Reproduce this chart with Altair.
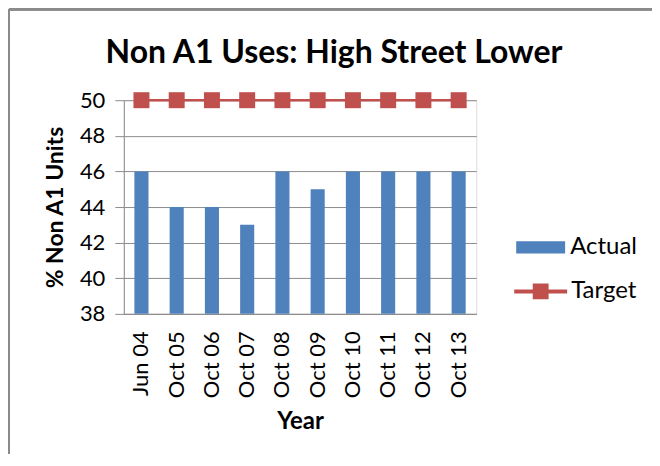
import altair as alt
import pandas as pd

categories = ["Jun 04", "Oct 05", "Oct 06", "Oct 07", "Oct 08", "Oct 09", "Oct 10", "Oct 11", "Oct 12", "Oct 13"]
actual = [46, 44, 44, 43, 46, 45, 46, 46, 46, 46]
target = [50, 50, 50, 50, 50, 50, 50, 50, 50, 50]
y_ticks = [38, 40, 42, 44, 46, 48, 50]

df = pd.DataFrame({"Year": categories, "Actual": actual, "Target": target,
                   "s1": "Actual", "s2": "Target"})

FONT = "Lato"
BLUE = "#4F81BD"
RED = "#C0504D"
GRID = "#8C8C8C"

xaxis = alt.Axis(title="Year", labelAngle=-90, labelFontSize=22, labelPadding=17,
                 ticks=False, titleFontSize=24, titleFontWeight="bold", titlePadding=12,
                 domainColor=GRID, labelColor="#000000", titleColor="#000000",
                 labelFont=FONT, titleFont=FONT)
yaxis = alt.Axis(title="% Non A1 Units", values=y_ticks, labelOverlap=False,
                 labelFontSize=22, labelPadding=10, tickSize=9, tickColor=GRID,
                 domainColor=GRID, gridColor=GRID, grid=True,
                 titleFontSize=23, titleFontWeight="bold", titlePadding=12,
                 labelColor="#000000", titleColor="#000000",
                 labelFont=FONT, titleFont=FONT)
xscale = alt.Scale(paddingInner=0.6, paddingOuter=0.3)
yscale = alt.Scale(domain=[38, 50], nice=False, zero=False)

def X():
    return alt.X("Year:N", sort=categories, scale=xscale, axis=xaxis)

bars = alt.Chart(df).mark_bar(color=BLUE).encode(
    x=X(),
    y=alt.Y("Actual:Q", scale=yscale, axis=yaxis),
    y2=alt.datum(38),
    color=alt.Color("s1:N", scale=alt.Scale(domain=["Actual"], range=[BLUE]),
                    legend=alt.Legend(title=None, orient="none", legendX=393, legendY=123,
                                      symbolType="M-1,-0.25H1V0.25H-1Z", symbolSize=2401,
                                      symbolStrokeWidth=0, labelFontSize=24, labelFont=FONT,
                                      labelColor="#000000", labelOffset=5, padding=0)),
)

line = alt.Chart(df).mark_line(color=RED, strokeWidth=2.5).encode(
    x=X(),
    y=alt.Y("Target:Q", scale=yscale, axis=yaxis),
)

points = alt.Chart(df).mark_point(shape="square", filled=True, size=256, opacity=1).encode(
    x=X(),
    y=alt.Y("Target:Q", scale=yscale, axis=yaxis),
    color=alt.Color("s2:N", scale=alt.Scale(domain=["Target"], range=[RED]),
                    legend=alt.Legend(title=None, orient="none", legendX=391, legendY=165,
                                      symbolType="M-1,-0.075H-0.3V-0.3H0.3V-0.075H1V0.075H0.3V0.3H-0.3V0.075H-1Z",
                                      symbolSize=2809, symbolStrokeWidth=0,
                                      labelFontSize=24, labelFont=FONT,
                                      labelColor="#000000", labelOffset=4, padding=0)),
)

frame = alt.Chart(df).mark_rule(color="#8A8A8A", strokeWidth=2, clip=False).encode(
    x=alt.value(-115), x2=alt.value(529), y=alt.value(-91)
)
frame2 = alt.Chart(df).mark_rule(color="#8A8A8A", strokeWidth=2, clip=False).encode(
    x=alt.value(-115), y=alt.value(-91), y2=alt.value(400)
)

chart = alt.layer(bars, line, points, frame, frame2).resolve_scale(color="independent").properties(
    width=353, height=214,
    title=alt.TitleParams("Non A1 Uses: High Street Lower", font=FONT, fontSize=32,
                          fontWeight="bold", color="#000000", anchor="middle", dx=34, offset=-62),
    autosize=alt.AutoSizeParams(type="none"),
    padding={"left": 116, "top": 92, "right": 176, "bottom": 140},
).configure_view(stroke=None).configure(background="white")

chart.save("out.html", embed_options={"renderer": "svg", "actions": False})
